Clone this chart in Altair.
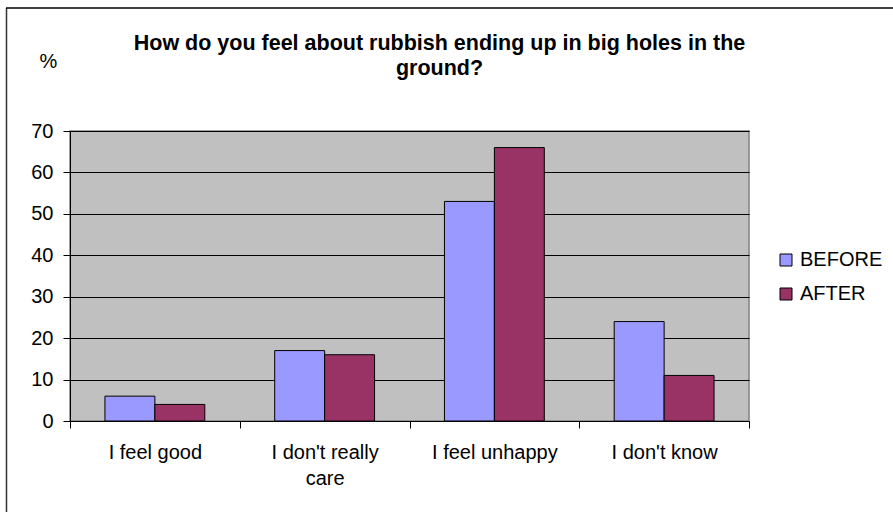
import altair as alt
import pandas as pd

categories = ["I feel good", "I don't really care", "I feel unhappy", "I don't know"]
series = ["BEFORE", "AFTER"]
before = [6, 17, 53, 24]
after = [4, 16, 66, 11]
colors = ["#9999FF", "#993366"]

rows = []
for c, b, a in zip(categories, before, after):
    rows.append({"category": c, "series": "BEFORE", "value": b})
    rows.append({"category": c, "series": "AFTER", "value": a})
df = pd.DataFrame(rows)

FONT = "Liberation Sans"

bars = alt.Chart(df).mark_bar(stroke="black", strokeWidth=1).encode(
    x=alt.X("category:N", sort=categories,
            scale=alt.Scale(paddingInner=0, paddingOuter=0),
            axis=alt.Axis(title=None, labelAngle=0, tickBand="extent", tickSize=7,
                          tickColor="black", domainColor="black", labelPadding=14,
                          labelFontSize=20, labelFont=FONT, labelColor="black",
                          labelLineHeight=26, grid=False,
                          labelExpr="datum.label == \"I don't really care\" ? [\"I don't really\", \"care\"] : datum.label")),
    xOffset=alt.XOffset("series:N", sort=series,
                        scale=alt.Scale(paddingInner=0, paddingOuter=0.7)),
    y=alt.Y("value:Q", scale=alt.Scale(domain=[0, 70], nice=False),
            axis=alt.Axis(values=list(range(0, 71, 10)), title="%", titleAngle=0,
                          titleX=-22, titleY=-60, titleAlign="center",
                          titleBaseline="bottom", titleFont=FONT, titleFontSize=20,
                          titleFontWeight="normal", titleColor="black",
                          tickSize=7, tickColor="black", domainColor="black",
                          labelFontSize=20, labelFont=FONT, labelColor="black",
                          labelPadding=10, grid=True, gridColor="black",
                          gridOpacity=1)),
    color=alt.Color("series:N", sort=series,
                    scale=alt.Scale(domain=series, range=colors),
                    legend=alt.Legend(title=None, orient="none", legendX=706, legendY=119,
                                      symbolType="square", symbolSize=144,
                                      symbolStrokeColor="black", symbolStrokeWidth=1,
                                      labelFontSize=20, labelFont=FONT, labelColor="black",
                                      rowPadding=14, labelOffset=4)),
)

border_df = pd.DataFrame({"k": [0]})
left_border = alt.Chart(border_df).mark_rule(color="#333333", strokeWidth=1.5).encode(
    x=alt.value(-63.5), y=alt.value(-123), y2=alt.value(381))
top_border = alt.Chart(border_df).mark_rule(color="black", strokeWidth=1.5).encode(
    x=alt.value(-64), x2=alt.value(823), y=alt.value(-123))

chart = alt.layer(bars, left_border, top_border).properties(
    width=679, height=290,
    background="white",
    title=alt.TitleParams(
        text=["How do you feel about rubbish ending up in big holes in the", "ground?"],
        font=FONT, fontSize=21.5, fontWeight="bold", color="black",
        anchor="middle", frame="group", dx=30, dy=78, lineHeight=25, offset=6),
    padding={"left": 70, "top": 131, "right": 144, "bottom": 91},
    autosize=alt.AutoSizeParams(type="none"),
).configure_view(stroke="#808080", fill="#C0C0C0", strokeWidth=1.5)

chart.save("out.html", embed_options={"renderer": "svg", "actions": False})
